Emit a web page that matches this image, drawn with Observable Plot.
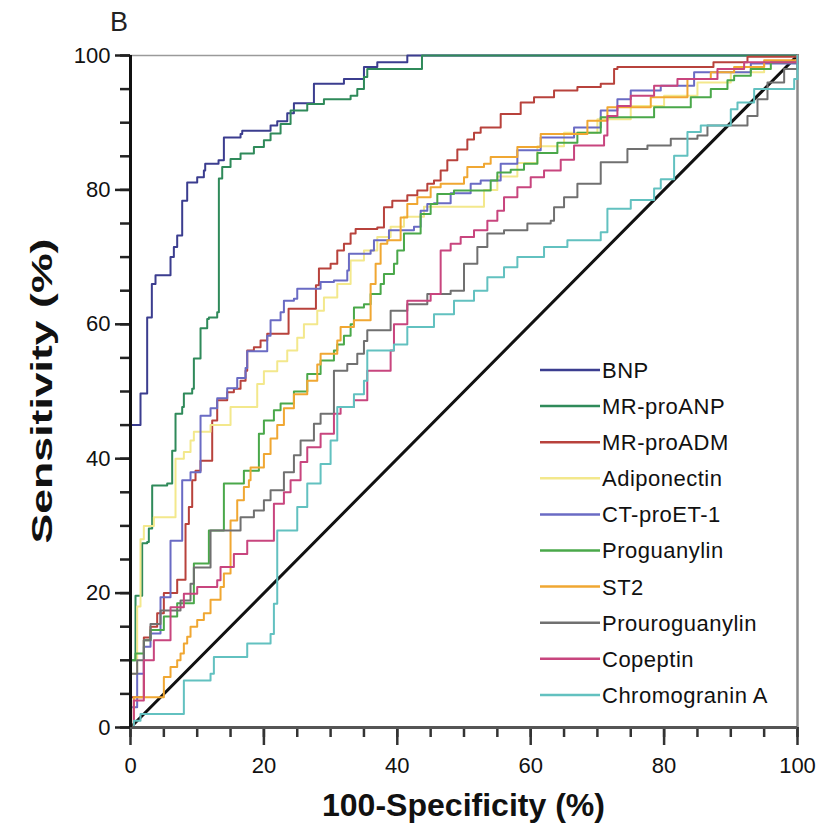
<!DOCTYPE html>
<html><head><meta charset="utf-8">
<script src="https://cdn.jsdelivr.net/npm/d3@7"></script>
<script src="https://cdn.jsdelivr.net/npm/@observablehq/plot@0.6"></script>
<style>body{margin:0;background:#fff} svg{display:block}</style>
</head><body><div id="chart"></div>
<script>
// ---- data (x = 100-Specificity %, y = Sensitivity %), step points: at x the curve rises to y
const seriesNames = ["BNP","MR-proANP","MR-proADM","Adiponectin","CT-proET-1","Proguanylin","ST2","Prouroguanylin","Copeptin","Chromogranin A"];
const seriesColors = ["#3b3d8f","#2f8a5a","#b8423c","#f3e88c","#6a6bc4","#4aa84a","#f0a732","#707070","#c8457e","#62c1c0"];

const bnp = [[0,0],[0,45],[1.5,49.7],[2.5,61],[3.2,66],[3.75,67.3],[6,70],[6.5,71.5],[7,73.2],[7.75,75.4],[7.75,78.4],[8.5,81.1],[10,81.9],[11,82.9],[11.2,83.9],[13.2,84.4],[14,87.8],[16.5,88.3],[16.75,88.8],[21,89.6],[22,90.2],[23.5,91.4],[24.5,92.9],[27.5,93],[27.5,95.8],[32,96.5],[35,98.3],[37,99],[41.5,100],[100,100]];
const mrProANP = [[0,0],[0,10],[0.75,19.6],[1.75,27.4],[2.5,27.6],[2.75,29.6],[3.25,36],[5.5,36.3],[6.25,41.2],[6.75,46.7],[7.75,47.7],[8,49.7],[9.25,50.4],[9.5,54.9],[10.5,59.4],[11.5,60.8],[11.75,61],[13,61.8],[13.25,81.7],[13.75,83.4],[15,84.6],[16.5,85.4],[18.5,86.4],[20,87.4],[21,88.4],[22.5,89.8],[24,91.8],[26.5,92.8],[29,93.5],[33,94],[34,95],[35,96.8],[35.5,98],[43.7,100],[100,100]];
const mrProADM = [[0,0],[0,4.5],[2,13.4],[3,15],[4,17],[5,20],[7,22],[8.25,30.3],[8.75,32.8],[9.25,36.8],[9.75,38.2],[10.5,39.7],[12.25,45.7],[13,48.7],[14.5,49.9],[15.5,50.4],[16.5,51.6],[17.25,53.1],[17.5,56.1],[18.5,56.6],[19.5,57.6],[20.5,58.6],[23.7,62.3],[27.8,65.8],[28.25,68.3],[30,69],[31,71],[32,72],[33,73.5],[33.75,74.2],[37,74.4],[38,77.4],[39.25,78.4],[41.5,79.2],[43,79.9],[44.5,80.9],[45.5,81.4],[46.5,82.9],[47.5,84.4],[49,86],[50.5,87.5],[51.5,88.5],[52.5,89.3],[55.5,91.3],[58.5,93],[60.5,93.8],[63.5,94.8],[67,95.3],[70.5,95.8],[72.5,98],[73,98.3],[87.4,99],[92.5,99.8],[100,100]];
const adiponectin = [[0,0],[0,8],[1,18],[1.5,28],[2,30],[3.5,31.3],[6.75,40],[8,41],[9,42.7],[9.5,44],[12,45],[15,47.7],[19,51.1],[20,53],[22,54.5],[23.5,56.1],[25,58],[26,60],[28,62],[29,64],[31,66],[33,69.5],[35,71],[37,73],[39,74.5],[41,76],[44,77.5],[52,77.5],[53,80],[55,82],[58,84],[61,86.5],[65,88.5],[70,90.5],[75,92.5],[80,94],[85,96],[90,97.5],[95,99],[100,100]];
const ctProET1 = [[0,0],[0,3],[1,8],[2,12],[3,14],[4.5,19.4],[6,27.8],[7.75,28.3],[7.75,36.8],[9,38],[10.5,46.4],[12,47.5],[13,49],[14.5,50.5],[16,52],[17.25,53.5],[17.5,56],[20.5,58.3],[21,60.6],[22.5,61.8],[23,63.5],[24.5,63.8],[25,65.3],[28.5,66.3],[30.5,66.5],[32.5,68],[32.75,70.5],[36,71],[36.5,72.5],[38.75,74],[42.5,74.5],[43.5,76.9],[44.5,77.9],[45.5,78],[48,79.5],[51,80.9],[52.5,81.4],[55.5,83.9],[58,85.9],[61.5,87.8],[66.5,89.3],[70.5,91.8],[73,93.5],[75,94.8],[79.5,95.5],[84.5,97.5],[93,98.8],[100,100]];
const proguanylin = [[0,0],[0,10],[0.75,11],[2,13],[3,14.5],[5,16.5],[7,18.5],[9.5,20.4],[9.5,24.4],[11.75,29.3],[14,36.3],[17,38.2],[19.25,43.7],[20,45.7],[21.5,47.2],[22.5,48.2],[24.5,50],[26.5,52.6],[28.5,54.6],[30.5,56.1],[31,57],[32,58.3],[33,60],[33.5,62.5],[35,63],[36,64.5],[37.5,66],[38,67.5],[39.5,69],[40,71],[41,73.5],[43.5,76.4],[45,77.9],[46,79.4],[48.5,79.9],[54,81.4],[55,82.6],[57,83],[59,83.9],[61,85.5],[64,87],[67,88.5],[70.5,90.8],[78.5,92.3],[84,93.8],[87,95],[89.5,96.3],[90.5,97],[93,98],[96,99],[100,100]];
const st2 = [[0,0],[0.5,4.5],[5,7.5],[6,9],[7,10],[7.5,11],[8,12.5],[8.5,13.5],[9,15],[10,16],[11,17],[12,19],[13.5,20.9],[14,22.9],[15,30.8],[16,33.8],[17,35.8],[17.75,36.8],[18,38.7],[20,40.7],[21,43],[22,45],[23,47.5],[24.5,49.6],[26.5,51.6],[28,54],[28.5,55.6],[31,57.6],[31.5,59.6],[33.5,60.6],[36,66],[36.75,69],[37.5,72],[38.5,72.5],[40.5,75.9],[41.5,77.9],[43,78.9],[45,80.4],[46.5,80.9],[50,81.9],[50.5,83.4],[53,83.9],[54,84.9],[58,86.4],[61.5,88.3],[68.5,90.3],[71.5,92.3],[78,93.8],[83.5,96.5],[87,97.5],[90.5,98.3],[95,99.3],[100,100]];
const prouroguanylin = [[0,0],[0,8],[1,10],[2,13],[3,15.4],[4.5,17.4],[7.5,18.9],[9,21.4],[9.5,23.8],[12,29.3],[16.5,31.3],[18.5,32.3],[20,33.8],[21,35.3],[23,38],[24.5,40.5],[25.5,42.7],[27.5,45.2],[28.5,46.7],[30.5,53.1],[32.5,54.1],[34,55.6],[35,57.5],[35.5,59.1],[39,62],[41.5,63],[44.5,64.5],[48,65],[50,69],[52,71.5],[53.5,73.5],[56,74],[59.5,75],[63,75.4],[63.5,77.4],[65,78.9],[67,80.9],[70.5,84.1],[74.5,86.1],[77.5,86.6],[81,87.6],[85,88.1],[86.5,89.6],[92.5,91],[94,93.5],[95.5,96],[98,98],[100,100]];
const copeptin = [[0,0],[0.5,4],[2,10],[3.5,13],[6,17.9],[8,19.9],[10,20.9],[13,21.9],[13.5,23.9],[15.5,25.8],[17.5,27.8],[21.5,29.3],[21.5,33.3],[23,35],[24,36.8],[25.5,39.5],[26.5,41.7],[28.5,43.7],[30.5,46.7],[31.5,47.7],[33.5,48.7],[35.5,53.1],[39,56.1],[39.5,60],[41.5,63.5],[45,64.5],[46.5,71],[48,72],[49.5,73],[51.5,74],[53.5,75.4],[55,76.9],[56,78.9],[58,80.4],[60,81.9],[62,82.9],[64.5,84.5],[66.5,86.6],[71,88.1],[71.5,91],[73,92.5],[75,94],[78.5,95.5],[82,96.5],[88,98],[92,99],[100,100]];
const chromograninA = [[0,0],[0.5,1],[1.5,2],[8,3],[8,7],[12,8],[12.5,10.5],[17.5,12.5],[21,13.9],[21.5,18.4],[22,29.3],[25,32.8],[26.5,36.3],[28.5,39.2],[30,42.7],[31,47.7],[33.5,49.6],[35,51.6],[35.5,56.1],[39.5,57],[41.5,59.6],[45.5,61.5],[48.5,63.5],[51.5,65],[53.5,67],[56,68.5],[58,70],[62,71.5],[65.5,72.5],[70.5,73.7],[71.5,77.2],[75,78.5],[78.5,80.2],[79.5,81.6],[81.5,85.1],[83.5,88.6],[85.5,89.6],[90,92],[91,93],[93.5,95],[99.5,96.5],[100,100]];

const seriesPoints = [bnp, mrProANP, mrProADM, adiponectin, ctProET1, proguanylin, st2, prouroguanylin, copeptin, chromograninA];
const xTicks = [0, 20, 40, 60, 80, 100];
const yTicks = [0, 20, 40, 60, 80, 100];
const minorTicks = d3.range(0, 101, 5);
const diagonal = [0, 100];
const xTitle = "100-Specificity (%)";
const yTitle = "Sensitivity (%)";
const panelLabel = "B";

// ---- build
const rows = seriesNames.flatMap((name, i) => seriesPoints[i].map(([x, y]) => ({name, x, y})));
const W = 831, H = 828;
const M = {top: 55, right: 34, bottom: 101, left: 130};
const FONT = "'Liberation Sans', Arial, Helvetica, sans-serif";

const svg = Plot.plot({
  width: W, height: H,
  marginTop: M.top, marginRight: M.right, marginBottom: M.bottom, marginLeft: M.left,
  x: {domain: [0, 100], label: null},
  y: {domain: [0, 100], label: null},
  color: {domain: seriesNames, range: seriesColors},
  style: {fontFamily: FONT, fontSize: "22px", color: "#111", background: "#fff", overflow: "visible"},
  marks: [
    Plot.ruleY([100], {stroke: "#9a9a9a", strokeWidth: 1.5}),
    Plot.ruleX([100], {stroke: "#8a8a8a", strokeWidth: 2.5}),
    Plot.line(diagonal.map(v => ({x: v, y: v})), {x: "x", y: "y", stroke: "#111", strokeWidth: 3}),
    Plot.line(rows, {x: "x", y: "y", z: "name", stroke: "name", curve: "step-after", strokeWidth: 2}),
    Plot.axisX({ticks: minorTicks, tickSize: 10, tickFormat: () => "", stroke: "#333", strokeWidth: 2.5}),
    Plot.axisX({ticks: xTicks, tickSize: 18, tickPadding: 12, stroke: "#333", strokeWidth: 2.5, fontSize: 22}),
    Plot.axisY({ticks: minorTicks, tickSize: 10, tickFormat: () => "", stroke: "#222", strokeWidth: 2.5}),
    Plot.axisY({ticks: yTicks, tickSize: 15, tickPadding: 5, stroke: "#222", strokeWidth: 2.5, fontSize: 22}),
    Plot.ruleY([0], {stroke: "#555", strokeWidth: 3}),
    Plot.ruleX([0], {stroke: "#111", strokeWidth: 3})
  ]
});

const s = d3.select(svg);
s.append("text").attr("x", 110).attr("y", 31).attr("text-anchor", "start")
  .attr("font-family", FONT).attr("font-size", 27).attr("fill", "#222").text(panelLabel);

s.append("text").attr("transform", `translate(52,${(M.top + H - M.bottom) / 2}) rotate(-90)`)
  .attr("text-anchor", "middle").attr("font-family", FONT).attr("font-weight", "bold")
  .attr("font-size", 30).attr("fill", "#111")
  .attr("textLength", 305).attr("lengthAdjust", "spacingAndGlyphs").text(yTitle);

s.append("text").attr("x", (M.left + W - M.right) / 2).attr("y", 816)
  .attr("text-anchor", "middle").attr("font-family", FONT).attr("font-weight", "bold")
  .attr("font-size", 31).attr("fill", "#111")
  .attr("textLength", 283).attr("lengthAdjust", "spacingAndGlyphs").text(xTitle);

// legend inside the frame, bottom right
const lg = s.append("g").attr("text-anchor", "start");
const lx0 = 540, lx1 = 600, ly0 = 370, lstep = 36.1;
seriesNames.forEach((name, i) => {
  const yy = ly0 + i * lstep;
  lg.append("line").attr("x1", lx0).attr("x2", lx1).attr("y1", yy).attr("y2", yy)
    .attr("stroke", seriesColors[i]).attr("stroke-width", 2.5);
  lg.append("text").attr("x", lx1 + 2).attr("y", yy).attr("dy", "0.36em")
    .attr("text-anchor", "start")
    .attr("font-family", FONT).attr("font-size", 22).attr("letter-spacing", "0.5px")
    .attr("fill", "#111").text(name);
});

document.getElementById("chart").appendChild(svg);
</script>
</body></html>
